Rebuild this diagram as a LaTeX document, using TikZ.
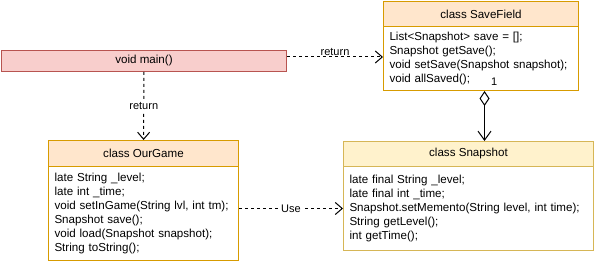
\documentclass[tikz,border=0pt]{standalone}
\usepackage{fontspec}
\setmainfont{Liberation Sans}
\usetikzlibrary{arrows.meta, positioning}

\definecolor{peach}{HTML}{FFE6CC}
\definecolor{peachline}{HTML}{D79B00}
\definecolor{cream}{HTML}{FFF2CC}
\definecolor{creamline}{HTML}{D6B656}
\definecolor{rose}{HTML}{F8CECC}
\definecolor{roseline}{HTML}{B85450}

\begin{document}
\begin{tikzpicture}[x=1pt, y=-1pt, line width=1pt,
    every node/.style={font=\fontsize{11.6}{14}\selectfont},
    head/.style={rectangle, draw=peachline, fill=peach, anchor=north west, inner sep=0pt},
    body/.style={rectangle, draw=peachline, fill=white, anchor=north west, inner xsep=6pt, inner ysep=0pt, align=left},
    dep/.style={dash pattern=on 3pt off 3pt, -{Straight Barb[length=7pt,width=12pt]}},
    lbl/.style={font=\fontsize{11}{13}\selectfont, inner sep=1pt}]
    \useasboundingbox (0,0) rectangle (594,264);

    \node[rectangle, draw=roseline, fill=rose, anchor=north west, minimum width=285pt, minimum height=21pt] (main) at (1,50) {void main()};

    \node[head, minimum width=195pt, minimum height=25pt] (savehead) at (383,1) {class SaveField};
    \node[body, text width=183pt, minimum height=64pt] (savebody) at (383,26) {List<Snapshot> save = [];\\Snapshot getSave();\\void setSave(Snapshot snapshot);\\void allSaved();};

    \node[head, minimum width=190pt, minimum height=26pt] (gamehead) at (48,140) {class OurGame};
    \node[body, text width=178pt, minimum height=94pt] (gamebody) at (48,166) {late String \_level;\\late int \_time;\\void setInGame(String lvl, int tm);\\Snapshot save();\\void load(Snapshot snapshot);\\String toString();};

    \node[head, draw=creamline, fill=cream, minimum width=250pt, minimum height=25pt] (snaphead) at (343,141) {class Snapshot};
    \node[body, draw=creamline, text width=238pt, minimum height=84pt] (snapbody) at (343,166) {late final String \_level;\\late final int \_time;\\Snapshot.setMemento(String level, int time);\\String getLevel();\\int getTime();};

    \draw[dep] (main) -- node[lbl, fill=white] {return} (gamehead);
    \draw[dep] ([yshift=4pt]main.east) -- node[lbl, above] {return} ([yshift=4pt]main.east -| savebody.west);
    \draw[dep] (gamebody.east |- snapbody.west) -- node[lbl, fill=white] {Use} (snapbody.west);

    % aggregation, SaveField holds the snapshots
    \draw[{Diamond[open,length=15pt,width=10pt]}-{Straight Barb[length=9pt,width=13pt]}] (savebody.south) ++(3.5,0) coordinate (aggtop) -- (aggtop |- snaphead.north);
    \node[lbl, above right=4pt and 5pt of aggtop] (mult) {1};
\end{tikzpicture}
\end{document}
